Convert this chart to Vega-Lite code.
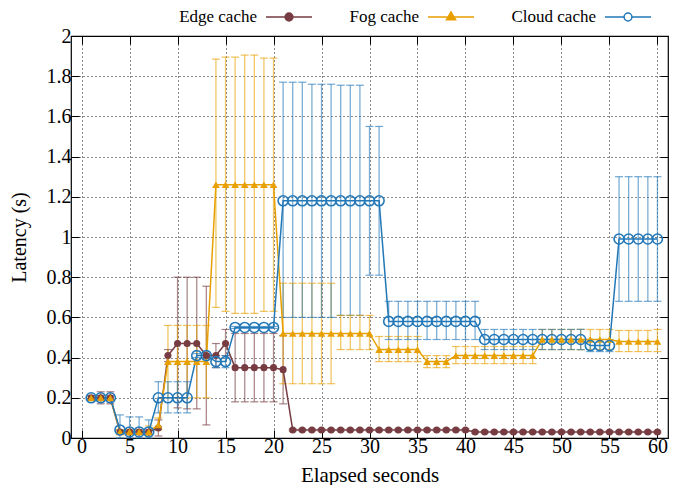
{
  "$schema": "https://vega.github.io/schema/vega-lite/v6.json",
  "autosize": {"type": "none"},
  "padding": {"left": 71, "top": 36, "right": 5, "bottom": 47},
  "width": 597,
  "height": 402,
  "background": "white",
  "config": {
    "font": "Liberation Serif",
    "view": {"stroke": "black", "strokeWidth": 1.2},
    "axis": {"labelFont": "Liberation Serif", "titleFont": "Liberation Serif", "labelFontSize": 20, "titleFontSize": 20, "titleFontWeight": "normal", "labelColor": "black", "titleColor": "black"},
    "legend": {"labelFont": "Liberation Serif"}
  },
  "data": {"values": [
    {"s":"Edge cache","t":1,"v":0.2,"lo":0.19,"hi":0.21},
    {"s":"Edge cache","t":2,"v":0.2,"lo":0.17,"hi":0.23},
    {"s":"Edge cache","t":3,"v":0.2,"lo":0.17,"hi":0.23},
    {"s":"Edge cache","t":4,"v":0.03,"lo":0.02,"hi":0.04},
    {"s":"Edge cache","t":5,"v":0.03,"lo":0.02,"hi":0.04},
    {"s":"Edge cache","t":6,"v":0.03,"lo":0.02,"hi":0.04},
    {"s":"Edge cache","t":7,"v":0.03,"lo":0.02,"hi":0.04},
    {"s":"Edge cache","t":8,"v":0.05,"lo":0.01,"hi":0.09},
    {"s":"Edge cache","t":9,"v":0.41,"lo":0.38,"hi":0.44},
    {"s":"Edge cache","t":10,"v":0.47,"lo":0.15,"hi":0.8},
    {"s":"Edge cache","t":11,"v":0.47,"lo":0.145,"hi":0.8},
    {"s":"Edge cache","t":12,"v":0.47,"lo":0.145,"hi":0.8},
    {"s":"Edge cache","t":13,"v":0.41,"lo":0.065,"hi":0.755},
    {"s":"Edge cache","t":14,"v":0.41,"lo":0.35,"hi":0.47},
    {"s":"Edge cache","t":15,"v":0.47,"lo":0.41,"hi":0.54},
    {"s":"Edge cache","t":16,"v":0.35,"lo":0.18,"hi":0.52},
    {"s":"Edge cache","t":17,"v":0.35,"lo":0.18,"hi":0.52},
    {"s":"Edge cache","t":18,"v":0.35,"lo":0.18,"hi":0.52},
    {"s":"Edge cache","t":19,"v":0.35,"lo":0.18,"hi":0.52},
    {"s":"Edge cache","t":20,"v":0.35,"lo":0.18,"hi":0.52},
    {"s":"Edge cache","t":21,"v":0.34,"lo":0.17,"hi":0.51},
    {"s":"Edge cache","t":22,"v":0.04,"lo":0.035,"hi":0.045},
    {"s":"Edge cache","t":23,"v":0.04,"lo":0.035,"hi":0.045},
    {"s":"Edge cache","t":24,"v":0.04,"lo":0.035,"hi":0.045},
    {"s":"Edge cache","t":25,"v":0.04,"lo":0.035,"hi":0.045},
    {"s":"Edge cache","t":26,"v":0.04,"lo":0.035,"hi":0.045},
    {"s":"Edge cache","t":27,"v":0.04,"lo":0.035,"hi":0.045},
    {"s":"Edge cache","t":28,"v":0.04,"lo":0.035,"hi":0.045},
    {"s":"Edge cache","t":29,"v":0.04,"lo":0.035,"hi":0.045},
    {"s":"Edge cache","t":30,"v":0.04,"lo":0.035,"hi":0.045},
    {"s":"Edge cache","t":31,"v":0.04,"lo":0.035,"hi":0.045},
    {"s":"Edge cache","t":32,"v":0.04,"lo":0.035,"hi":0.045},
    {"s":"Edge cache","t":33,"v":0.04,"lo":0.035,"hi":0.045},
    {"s":"Edge cache","t":34,"v":0.04,"lo":0.035,"hi":0.045},
    {"s":"Edge cache","t":35,"v":0.04,"lo":0.035,"hi":0.045},
    {"s":"Edge cache","t":36,"v":0.04,"lo":0.035,"hi":0.045},
    {"s":"Edge cache","t":37,"v":0.04,"lo":0.035,"hi":0.045},
    {"s":"Edge cache","t":38,"v":0.04,"lo":0.035,"hi":0.045},
    {"s":"Edge cache","t":39,"v":0.04,"lo":0.035,"hi":0.045},
    {"s":"Edge cache","t":40,"v":0.04,"lo":0.035,"hi":0.045},
    {"s":"Edge cache","t":41,"v":0.03,"lo":0.025,"hi":0.035},
    {"s":"Edge cache","t":42,"v":0.03,"lo":0.025,"hi":0.035},
    {"s":"Edge cache","t":43,"v":0.03,"lo":0.025,"hi":0.035},
    {"s":"Edge cache","t":44,"v":0.03,"lo":0.025,"hi":0.035},
    {"s":"Edge cache","t":45,"v":0.03,"lo":0.025,"hi":0.035},
    {"s":"Edge cache","t":46,"v":0.03,"lo":0.025,"hi":0.035},
    {"s":"Edge cache","t":47,"v":0.03,"lo":0.025,"hi":0.035},
    {"s":"Edge cache","t":48,"v":0.03,"lo":0.025,"hi":0.035},
    {"s":"Edge cache","t":49,"v":0.03,"lo":0.025,"hi":0.035},
    {"s":"Edge cache","t":50,"v":0.03,"lo":0.025,"hi":0.035},
    {"s":"Edge cache","t":51,"v":0.03,"lo":0.025,"hi":0.035},
    {"s":"Edge cache","t":52,"v":0.03,"lo":0.025,"hi":0.035},
    {"s":"Edge cache","t":53,"v":0.03,"lo":0.025,"hi":0.035},
    {"s":"Edge cache","t":54,"v":0.03,"lo":0.025,"hi":0.035},
    {"s":"Edge cache","t":55,"v":0.03,"lo":0.025,"hi":0.035},
    {"s":"Edge cache","t":56,"v":0.03,"lo":0.025,"hi":0.035},
    {"s":"Edge cache","t":57,"v":0.03,"lo":0.025,"hi":0.035},
    {"s":"Edge cache","t":58,"v":0.03,"lo":0.025,"hi":0.035},
    {"s":"Edge cache","t":59,"v":0.03,"lo":0.025,"hi":0.035},
    {"s":"Edge cache","t":60,"v":0.03,"lo":0.025,"hi":0.035},
    {"s":"Fog cache","t":1,"v":0.2,"lo":0.19,"hi":0.21},
    {"s":"Fog cache","t":2,"v":0.2,"lo":0.19,"hi":0.21},
    {"s":"Fog cache","t":3,"v":0.2,"lo":0.19,"hi":0.21},
    {"s":"Fog cache","t":4,"v":0.03,"lo":0.02,"hi":0.04},
    {"s":"Fog cache","t":5,"v":0.03,"lo":0.02,"hi":0.04},
    {"s":"Fog cache","t":6,"v":0.03,"lo":0.02,"hi":0.04},
    {"s":"Fog cache","t":7,"v":0.03,"lo":0.01,"hi":0.06},
    {"s":"Fog cache","t":8,"v":0.065,"lo":0.04,"hi":0.1},
    {"s":"Fog cache","t":9,"v":0.38,"lo":0.2,"hi":0.56},
    {"s":"Fog cache","t":10,"v":0.38,"lo":0.2,"hi":0.56},
    {"s":"Fog cache","t":11,"v":0.38,"lo":0.2,"hi":0.56},
    {"s":"Fog cache","t":12,"v":0.38,"lo":0.2,"hi":0.56},
    {"s":"Fog cache","t":13,"v":0.38,"lo":0.2,"hi":0.56},
    {"s":"Fog cache","t":14,"v":1.26,"lo":0.65,"hi":1.885},
    {"s":"Fog cache","t":15,"v":1.26,"lo":0.63,"hi":1.895},
    {"s":"Fog cache","t":16,"v":1.26,"lo":0.62,"hi":1.895},
    {"s":"Fog cache","t":17,"v":1.26,"lo":0.62,"hi":1.905},
    {"s":"Fog cache","t":18,"v":1.26,"lo":0.62,"hi":1.905},
    {"s":"Fog cache","t":19,"v":1.26,"lo":0.63,"hi":1.89},
    {"s":"Fog cache","t":20,"v":1.26,"lo":0.63,"hi":1.89},
    {"s":"Fog cache","t":21,"v":0.52,"lo":0.27,"hi":0.77},
    {"s":"Fog cache","t":22,"v":0.52,"lo":0.27,"hi":0.77},
    {"s":"Fog cache","t":23,"v":0.52,"lo":0.27,"hi":0.77},
    {"s":"Fog cache","t":24,"v":0.52,"lo":0.27,"hi":0.77},
    {"s":"Fog cache","t":25,"v":0.52,"lo":0.27,"hi":0.77},
    {"s":"Fog cache","t":26,"v":0.52,"lo":0.27,"hi":0.77},
    {"s":"Fog cache","t":27,"v":0.52,"lo":0.44,"hi":0.61},
    {"s":"Fog cache","t":28,"v":0.52,"lo":0.44,"hi":0.61},
    {"s":"Fog cache","t":29,"v":0.52,"lo":0.44,"hi":0.61},
    {"s":"Fog cache","t":30,"v":0.52,"lo":0.44,"hi":0.61},
    {"s":"Fog cache","t":31,"v":0.44,"lo":0.38,"hi":0.505},
    {"s":"Fog cache","t":32,"v":0.44,"lo":0.38,"hi":0.505},
    {"s":"Fog cache","t":33,"v":0.44,"lo":0.38,"hi":0.505},
    {"s":"Fog cache","t":34,"v":0.44,"lo":0.38,"hi":0.505},
    {"s":"Fog cache","t":35,"v":0.44,"lo":0.38,"hi":0.505},
    {"s":"Fog cache","t":36,"v":0.38,"lo":0.35,"hi":0.41},
    {"s":"Fog cache","t":37,"v":0.38,"lo":0.35,"hi":0.41},
    {"s":"Fog cache","t":38,"v":0.38,"lo":0.35,"hi":0.41},
    {"s":"Fog cache","t":39,"v":0.41,"lo":0.37,"hi":0.455},
    {"s":"Fog cache","t":40,"v":0.41,"lo":0.37,"hi":0.455},
    {"s":"Fog cache","t":41,"v":0.41,"lo":0.37,"hi":0.455},
    {"s":"Fog cache","t":42,"v":0.41,"lo":0.37,"hi":0.455},
    {"s":"Fog cache","t":43,"v":0.41,"lo":0.37,"hi":0.455},
    {"s":"Fog cache","t":44,"v":0.41,"lo":0.37,"hi":0.455},
    {"s":"Fog cache","t":45,"v":0.41,"lo":0.37,"hi":0.455},
    {"s":"Fog cache","t":46,"v":0.41,"lo":0.37,"hi":0.455},
    {"s":"Fog cache","t":47,"v":0.41,"lo":0.37,"hi":0.455},
    {"s":"Fog cache","t":48,"v":0.49,"lo":0.44,"hi":0.54},
    {"s":"Fog cache","t":49,"v":0.49,"lo":0.44,"hi":0.54},
    {"s":"Fog cache","t":50,"v":0.49,"lo":0.44,"hi":0.54},
    {"s":"Fog cache","t":51,"v":0.49,"lo":0.44,"hi":0.54},
    {"s":"Fog cache","t":52,"v":0.49,"lo":0.44,"hi":0.54},
    {"s":"Fog cache","t":53,"v":0.49,"lo":0.44,"hi":0.54},
    {"s":"Fog cache","t":54,"v":0.49,"lo":0.44,"hi":0.54},
    {"s":"Fog cache","t":55,"v":0.49,"lo":0.44,"hi":0.54},
    {"s":"Fog cache","t":56,"v":0.48,"lo":0.43,"hi":0.535},
    {"s":"Fog cache","t":57,"v":0.48,"lo":0.43,"hi":0.535},
    {"s":"Fog cache","t":58,"v":0.48,"lo":0.43,"hi":0.535},
    {"s":"Fog cache","t":59,"v":0.48,"lo":0.43,"hi":0.535},
    {"s":"Fog cache","t":60,"v":0.48,"lo":0.43,"hi":0.54},
    {"s":"Cloud cache","t":1,"v":0.2,"lo":0.19,"hi":0.21},
    {"s":"Cloud cache","t":2,"v":0.2,"lo":0.19,"hi":0.21},
    {"s":"Cloud cache","t":3,"v":0.2,"lo":0.19,"hi":0.21},
    {"s":"Cloud cache","t":4,"v":0.04,"lo":0.0,"hi":0.115},
    {"s":"Cloud cache","t":5,"v":0.03,"lo":0.0,"hi":0.105},
    {"s":"Cloud cache","t":6,"v":0.03,"lo":0.0,"hi":0.105},
    {"s":"Cloud cache","t":7,"v":0.03,"lo":0.0,"hi":0.09},
    {"s":"Cloud cache","t":8,"v":0.2,"lo":0.125,"hi":0.28},
    {"s":"Cloud cache","t":9,"v":0.2,"lo":0.125,"hi":0.28},
    {"s":"Cloud cache","t":10,"v":0.2,"lo":0.125,"hi":0.28},
    {"s":"Cloud cache","t":11,"v":0.2,"lo":0.125,"hi":0.28},
    {"s":"Cloud cache","t":12,"v":0.41,"lo":0.4,"hi":0.42},
    {"s":"Cloud cache","t":13,"v":0.41,"lo":0.4,"hi":0.42},
    {"s":"Cloud cache","t":14,"v":0.38,"lo":0.35,"hi":0.41},
    {"s":"Cloud cache","t":15,"v":0.38,"lo":0.35,"hi":0.41},
    {"s":"Cloud cache","t":16,"v":0.55,"lo":0.545,"hi":0.555},
    {"s":"Cloud cache","t":17,"v":0.55,"lo":0.545,"hi":0.555},
    {"s":"Cloud cache","t":18,"v":0.55,"lo":0.545,"hi":0.555},
    {"s":"Cloud cache","t":19,"v":0.55,"lo":0.545,"hi":0.555},
    {"s":"Cloud cache","t":20,"v":0.55,"lo":0.545,"hi":0.555},
    {"s":"Cloud cache","t":21,"v":1.18,"lo":0.6,"hi":1.77},
    {"s":"Cloud cache","t":22,"v":1.18,"lo":0.6,"hi":1.77},
    {"s":"Cloud cache","t":23,"v":1.18,"lo":0.6,"hi":1.77},
    {"s":"Cloud cache","t":24,"v":1.18,"lo":0.6,"hi":1.76},
    {"s":"Cloud cache","t":25,"v":1.18,"lo":0.6,"hi":1.76},
    {"s":"Cloud cache","t":26,"v":1.18,"lo":0.6,"hi":1.76},
    {"s":"Cloud cache","t":27,"v":1.18,"lo":0.61,"hi":1.755},
    {"s":"Cloud cache","t":28,"v":1.18,"lo":0.61,"hi":1.755},
    {"s":"Cloud cache","t":29,"v":1.18,"lo":0.61,"hi":1.755},
    {"s":"Cloud cache","t":30,"v":1.18,"lo":0.81,"hi":1.55},
    {"s":"Cloud cache","t":31,"v":1.18,"lo":0.81,"hi":1.55},
    {"s":"Cloud cache","t":32,"v":0.58,"lo":0.49,"hi":0.68},
    {"s":"Cloud cache","t":33,"v":0.58,"lo":0.49,"hi":0.68},
    {"s":"Cloud cache","t":34,"v":0.58,"lo":0.49,"hi":0.68},
    {"s":"Cloud cache","t":35,"v":0.58,"lo":0.49,"hi":0.68},
    {"s":"Cloud cache","t":36,"v":0.58,"lo":0.49,"hi":0.68},
    {"s":"Cloud cache","t":37,"v":0.58,"lo":0.49,"hi":0.68},
    {"s":"Cloud cache","t":38,"v":0.58,"lo":0.49,"hi":0.68},
    {"s":"Cloud cache","t":39,"v":0.58,"lo":0.49,"hi":0.68},
    {"s":"Cloud cache","t":40,"v":0.58,"lo":0.49,"hi":0.68},
    {"s":"Cloud cache","t":41,"v":0.58,"lo":0.49,"hi":0.68},
    {"s":"Cloud cache","t":42,"v":0.49,"lo":0.44,"hi":0.54},
    {"s":"Cloud cache","t":43,"v":0.49,"lo":0.44,"hi":0.54},
    {"s":"Cloud cache","t":44,"v":0.49,"lo":0.44,"hi":0.54},
    {"s":"Cloud cache","t":45,"v":0.49,"lo":0.44,"hi":0.54},
    {"s":"Cloud cache","t":46,"v":0.49,"lo":0.44,"hi":0.54},
    {"s":"Cloud cache","t":47,"v":0.49,"lo":0.44,"hi":0.54},
    {"s":"Cloud cache","t":48,"v":0.49,"lo":0.44,"hi":0.54},
    {"s":"Cloud cache","t":49,"v":0.49,"lo":0.44,"hi":0.54},
    {"s":"Cloud cache","t":50,"v":0.49,"lo":0.44,"hi":0.54},
    {"s":"Cloud cache","t":51,"v":0.49,"lo":0.44,"hi":0.54},
    {"s":"Cloud cache","t":52,"v":0.49,"lo":0.44,"hi":0.54},
    {"s":"Cloud cache","t":53,"v":0.46,"lo":0.43,"hi":0.49},
    {"s":"Cloud cache","t":54,"v":0.46,"lo":0.43,"hi":0.49},
    {"s":"Cloud cache","t":55,"v":0.46,"lo":0.43,"hi":0.49},
    {"s":"Cloud cache","t":56,"v":0.99,"lo":0.68,"hi":1.3},
    {"s":"Cloud cache","t":57,"v":0.99,"lo":0.68,"hi":1.3},
    {"s":"Cloud cache","t":58,"v":0.99,"lo":0.68,"hi":1.3},
    {"s":"Cloud cache","t":59,"v":0.99,"lo":0.68,"hi":1.3},
    {"s":"Cloud cache","t":60,"v":0.99,"lo":0.68,"hi":1.3}
  ]},
  "resolve": {"axis": {"x": "independent", "y": "independent"}},
  "layer": [
    {
      "mark": {"type": "rule", "strokeWidth": 1.3, "opacity": 0.6},
      "encoding": {
        "x": {"field": "t", "type": "quantitative", "scale": {"domain": [-1.1, 61.1], "nice": false, "zero": false},
          "axis": {"values": [0,5,10,15,20,25,30,35,40,45,50,55,60], "title": "Elapsed seconds", "labelFont": "Liberation Serif", "titleFont": "Liberation Serif", "labelFontSize": 20, "titleFontSize": 21, "titlePadding": 8, "labelPadding": 6, "tickSize": -8, "tickColor": "black", "domain": false, "grid": true, "gridColor": "black", "gridDash": [1,3], "gridOpacity": 0.9, "labelFlush": false}},
        "y": {"field": "lo", "type": "quantitative", "scale": {"domain": [0, 2], "nice": false, "clamp": true},
          "axis": {"values": [0,0.2,0.4,0.6,0.8,1,1.2,1.4,1.6,1.8,2], "format": "~g", "title": "Latency (s)", "labelFont": "Liberation Serif", "titleFont": "Liberation Serif", "labelFontSize": 20, "titleFontSize": 20, "titlePadding": 17, "labelPadding": 8, "tickSize": -8, "tickColor": "black", "domain": false, "grid": true, "gridColor": "black", "gridDash": [1,3], "gridOpacity": 0.9, "labelFlush": false}},
        "y2": {"field": "hi"},
        "color": {"field": "s", "type": "nominal", "legend": null, "scale": {"domain": ["Cloud cache", "Edge cache", "Fog cache"], "range": ["#2378b8", "#763c42", "#e8a000"]}}
      }
    },
    {
      "mark": {"type": "tick", "orient": "horizontal", "size": 8, "thickness": 1.2, "opacity": 0.65},
      "encoding": {
        "x": {"field": "t", "type": "quantitative", "axis": null},
        "y": {"field": "lo", "type": "quantitative", "axis": null},
        "color": {"field": "s", "type": "nominal", "legend": null}
      }
    },
    {
      "mark": {"type": "tick", "orient": "horizontal", "size": 8, "thickness": 1.2, "opacity": 0.65},
      "encoding": {
        "x": {"field": "t", "type": "quantitative", "axis": null},
        "y": {"field": "hi", "type": "quantitative", "axis": null},
        "color": {"field": "s", "type": "nominal", "legend": null}
      }
    },
    {
      "mark": {"type": "line", "strokeWidth": 1.5},
      "encoding": {
        "x": {"field": "t", "type": "quantitative", "axis": null},
        "y": {"field": "v", "type": "quantitative", "axis": null},
        "color": {"field": "s", "type": "nominal", "legend": null}
      }
    },
    {
      "transform": [{"filter": "datum.s == 'Edge cache'"}],
      "mark": {"type": "point", "shape": "circle", "filled": true, "opacity": 1, "size": 50},
      "encoding": {
        "x": {"field": "t", "type": "quantitative", "axis": null},
        "y": {"field": "v", "type": "quantitative", "axis": null},
        "color": {"field": "s", "type": "nominal", "legend": null}
      }
    },
    {
      "transform": [{"filter": "datum.s == 'Fog cache'"}],
      "mark": {"type": "point", "shape": "triangle-up", "filled": true, "opacity": 1, "size": 60},
      "encoding": {
        "x": {"field": "t", "type": "quantitative", "axis": null},
        "y": {"field": "v", "type": "quantitative", "axis": null},
        "color": {"field": "s", "type": "nominal", "legend": null}
      }
    },
    {
      "transform": [{"filter": "datum.s == 'Cloud cache'"}],
      "mark": {"type": "point", "shape": "circle", "filled": false, "opacity": 1, "size": 100, "strokeWidth": 1.6},
      "encoding": {
        "x": {"field": "t", "type": "quantitative", "axis": null},
        "y": {"field": "v", "type": "quantitative", "axis": null},
        "color": {"field": "s", "type": "nominal", "legend": null}
      }
    },
    {
      "transform": [{"filter": "datum.t < 0"}],
      "mark": {"type": "point", "strokeWidth": 1.5, "opacity": 1},
      "encoding": {
        "x": {"field": "t", "type": "quantitative", "axis": {"orient": "top", "values": [0,5,10,15,20,25,30,35,40,45,50,55,60], "labels": false, "title": null, "tickSize": -8, "tickColor": "black", "domain": false, "grid": false}},
        "y": {"field": "v", "type": "quantitative", "axis": {"orient": "right", "values": [0,0.2,0.4,0.6,0.8,1,1.2,1.4,1.6,1.8,2], "labels": false, "title": null, "tickSize": -8, "tickColor": "black", "domain": false, "grid": false}},
        "stroke": {"field": "s", "type": "nominal", "scale": {"domain": ["Edge cache", "Fog cache", "Cloud cache"], "range": ["#763c42", "#e8a000", "#2378b8"]},
          "legend": {"title": null, "orient": "none", "legendX": 194, "legendY": -43, "direction": "horizontal", "symbolSize": 2116, "symbolStrokeWidth": 1.5, "symbolOpacity": 1, "labelFont": "Liberation Serif", "labelFontSize": 17, "labelColor": "black", "labelAlign": "right", "labelOffset": -56, "columnPadding": 34, "labelLimit": 200, "labelExpr": "datum.label == 'Fog cache' ? '\u00a0\u00a0\u00a0\u00a0Fog cache' : datum.label"}},
        "fill": {"field": "s", "type": "nominal", "scale": {"domain": ["Edge cache", "Fog cache", "Cloud cache"], "range": ["#763c42", "#e8a000", "white"]}},
        "shape": {"field": "s", "type": "nominal", "scale": {"domain": ["Edge cache", "Fog cache", "Cloud cache"], "range": [
          "M-1,0H-0.17M0.17,0H1M-0.17,0A0.17,0.17 0 1,0 0.17,0A0.17,0.17 0 1,0 -0.17,0Z",
          "M-1,0H1M-0.2,0.12L0,-0.22L0.2,0.12Z",
          "M-1,0H-0.17M0.17,0H1M-0.17,0A0.17,0.17 0 1,0 0.17,0A0.17,0.17 0 1,0 -0.17,0Z"]}}
      }
    }
  ]
}
